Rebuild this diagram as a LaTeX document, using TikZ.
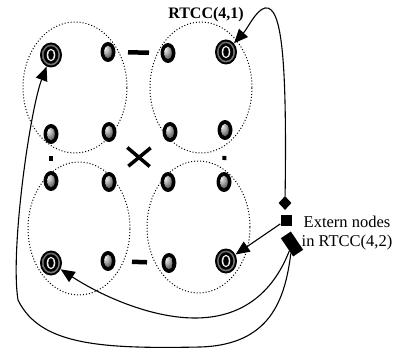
\documentclass[tikz,border=0pt]{standalone}
\usepackage{fontspec}
\setmainfont{Liberation Serif}
\usetikzlibrary{shapes.geometric,arrows.meta}
\begin{document}
\begin{tikzpicture}[x=1pt,y=-1pt,
  cluster/.style={draw, dotted, line width=1pt},
  smallnode/.style={ellipse, fill=black, minimum width=15pt, minimum height=20pt, inner sep=0pt,
     path picture={\shade[ball color=gray!75] (path picture bounding box.center) ellipse [x radius=3.8pt, y radius=6.3pt];}},
  ringnode/.style={ellipse, fill=black, minimum width=22pt, minimum height=25pt, inner sep=0pt,
     path picture={
       \shade[inner color=gray!20, outer color=gray!60!black] (path picture bounding box.center) ellipse [x radius=9pt, y radius=10.5pt];
       \fill[black] (path picture bounding box.center) ellipse [x radius=7.3pt, y radius=8.8pt];
       \fill[gray!15] (path picture bounding box.center) ellipse [x radius=4.3pt, y radius=6.3pt];
       \fill[black] (path picture bounding box.center) ellipse [x radius=2.8pt, y radius=4.8pt];}},
  diamondmark/.style={diamond, fill=black, minimum width=13pt, minimum height=14pt, inner sep=0pt},
  squaremark/.style={rectangle, fill=black, minimum size=11pt, inner sep=0pt},
  rectmark/.style={rectangle, fill=black, minimum width=22pt, minimum height=12pt, inner sep=0pt, rotate=-56},
  bar/.style={line width=4.5pt},
  dotedge/.style={line width=4.5pt},
  xedge/.style={line width=3.5pt},
  arr/.style={line width=1.1pt, -{Triangle[length=14pt,width=12pt]}},
  lbl/.style={inner sep=0pt}
]
\useasboundingbox (0,0) rectangle (396,350);

% clusters
\draw[cluster] (75,87.5) ellipse [x radius=52pt, y radius=65.5pt];
\draw[cluster] (201,87.5) ellipse [x radius=51pt, y radius=65.5pt];
\draw[cluster] (79,228.5) ellipse [x radius=51pt, y radius=66.5pt];
\draw[cluster] (198.5,227) ellipse [x radius=51.5pt, y radius=66pt];

% nodes
\node[ringnode]  (A1) at (51,55) {};
\node[smallnode] (A2) at (108,52) {};
\node[smallnode] (A3) at (51,134) {};
\node[smallnode] (A4) at (109,132) {};
\node[smallnode] (B1) at (168,53) {};
\node[ringnode]  (B2) at (226,52) {};
\node[smallnode] (B3) at (170,132) {};
\node[smallnode] (B4) at (225,130) {};
\node[smallnode] (C1) at (51,181) {};
\node[smallnode] (C2) at (109,182) {};
\node[ringnode]  (C3) at (51,263) {};
\node[smallnode] (C4) at (108,261) {};
\node[smallnode] (D1) at (168,182) {};
\node[smallnode] (D2) at (224,182) {};
\node[smallnode] (D3) at (169,263) {};
\node[ringnode]  (D4) at (226,261) {};

% extern markers
\node[diamondmark] (E1) at (285,203) {};
\node[squaremark]  (E2) at (286,220) {};
\node[rectmark]    (E3) at (292,244) {};

% labels
\node[lbl, font=\bfseries\fontsize{16}{18}\selectfont] (T1) at (206,15) {RTCC(4,1)};
\node[lbl, align=center, font=\fontsize{16.5}{18.6}\selectfont] (T2) at (347,233) {Extern nodes\\in RTCC(4,2)};

% short edges between clusters
\draw[bar, shorten <=20pt, shorten >=19pt] (A2.center) -- (B1.center);
\draw[bar, shorten <=24pt, shorten >=22pt] (C4.center) -- (D3.center);
\draw[dotedge, shorten <=22pt, shorten >=20pt] (A3.center) -- (C1.center);
\draw[line width=4pt, shorten <=26pt, shorten >=22pt] (B4.center) -- (D2.center);
\draw[xedge, shorten <=24pt, shorten >=24pt] (A4.center) -- (D1.center);
\draw[xedge, shorten <=25pt, shorten >=25pt] (B3.center) -- (C2.center);

% connectors to extern nodes
\draw[arr] (E1) .. controls (287,60) and (282,5) .. (265,8) .. controls (256,10) and (248,28) .. (B2);
\draw[arr] (E2) -- (D4);
\draw[arr] (E3) .. controls (272,295) and (240,318) .. (195,318) .. controls (150,318) and (100,295) .. (C3);
\draw[arr] (E3) .. controls (285,300) and (270,345) .. (200,347) .. controls (100,349) and (40,345) .. (18,300) .. controls (10,250) and (30,110) .. (A1);
\end{tikzpicture}
\end{document}
